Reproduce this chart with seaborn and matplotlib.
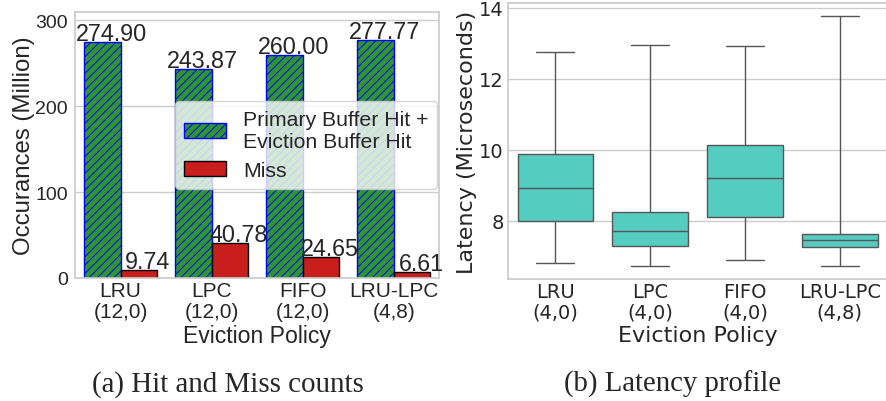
import numpy as np
import pandas as pd
import matplotlib
matplotlib.use("Agg")
import matplotlib.pyplot as plt
import seaborn as sns

# ---- data ----
hit_policies = ["LRU\n(12,0)", "LPC\n(12,0)", "FIFO\n(12,0)", "LRU-LPC\n(4,8)"]
hits = [274.90, 243.87, 260.00, 277.77]
misses = [9.74, 40.78, 24.65, 6.61]

lat_policies = ["LRU\n(4,0)", "LPC\n(4,0)", "FIFO\n(4,0)", "LRU-LPC\n(4,8)"]
# five-number summaries: whisker low, Q1, median, Q3, whisker high
lat_low = [6.81, 6.74, 6.89, 6.72]
lat_q1 = [8.00, 7.29, 8.12, 7.28]
lat_med = [8.94, 7.73, 9.20, 7.46]
lat_q3 = [9.88, 8.24, 10.15, 7.62]
lat_high = [12.74, 12.94, 12.91, 13.78]

HIT_LABEL = "Primary Buffer Hit +\nEviction Buffer Hit"
MISS_LABEL = "Miss"

HIT_COLOR = "#2e962e"
MISS_COLOR = "#c81e1e"
HATCH = "////"

sns.set_theme(style="whitegrid")
plt.rcParams["hatch.linewidth"] = 0.7

fig = plt.figure(figsize=(8.86, 4.02), dpi=100)
ax1 = fig.add_axes([0.0847, 0.306, 0.411, 0.662])
ax2 = fig.add_axes([0.5734, 0.3035, 0.4278, 0.6866])

# ---- (a) hit / miss bars ----
bar_df = pd.DataFrame({
    "policy": hit_policies * 2,
    "count": hits + misses,
    "kind": [HIT_LABEL] * len(hits) + [MISS_LABEL] * len(misses),
})
sns.barplot(data=bar_df, x="policy", y="count", hue="kind", ax=ax1,
            palette=[HIT_COLOR, MISS_COLOR], saturation=1, width=0.8,
            gap=0, errorbar=None)

sans = "Liberation Sans"
hit_bars = ax1.containers[0]
miss_bars = ax1.containers[1]
for p in hit_bars.patches:
    p.set_hatch(HATCH)
    p.set_edgecolor("blue")
    p.set_linewidth(1.0)
for p in miss_bars.patches:
    p.set_edgecolor("black")
    p.set_linewidth(1.0)

# value labels, nudged slightly right of each bar's centre
for cont, vals in ((hit_bars, hits), (miss_bars, misses)):
    for p, v in zip(cont.patches, vals):
        ax1.text(p.get_x() + p.get_width() / 2 + 0.1, v + 2.2, f"{v:.2f}",
                 ha="center", va="baseline", fontsize=16.8, family=sans,
                 color="#262626")

ax1.set_ylim(0, 310)
ax1.set_xlim(-0.5, 3.5)
ax1.set_yticks([0, 100, 200, 300])
ax1.grid(axis="x", visible=False)
ax1.set_ylabel("Occurances (Million)", fontsize=17.3, family=sans, labelpad=0)
ax1.set_xlabel("Eviction Policy", fontsize=16.6, family=sans, labelpad=2.5)
for lab in ax1.get_yticklabels():
    lab.set_family(sans)
    lab.set_fontsize(14)
for lab in ax1.get_xticklabels():
    lab.set_family(sans)
    lab.set_fontsize(15)
    lab.set_linespacing(1.13)
ax1.tick_params(axis="both", length=0)
ax1.tick_params(axis="y", pad=5)
ax1.tick_params(axis="x", pad=2)
leg = ax1.legend(loc="center right", prop={"family": sans, "size": 15.3},
                 borderaxespad=0.08, framealpha=0.8)
hit_handle, miss_handle = leg.legend_handles
hit_handle.set_hatch(HATCH)
hit_handle.set_edgecolor("blue")
hit_handle.set_linewidth(1.0)
miss_handle.set_edgecolor("black")
miss_handle.set_linewidth(1.0)

# ---- (b) latency boxes ----
box_rows = []
for name, a, b, c, d, e in zip(lat_policies, lat_low, lat_q1, lat_med, lat_q3, lat_high):
    for v in (a, b, c, d, e):
        box_rows.append({"policy": name, "latency": v})
box_df = pd.DataFrame(box_rows)
sns.boxplot(data=box_df, x="policy", y="latency", ax=ax2, color="turquoise",
            whis=(0, 100), width=0.8, showfliers=False)
ax2.set_xlim(-0.5, 3.5)
ax2.set_yticks([8, 10, 12, 14])
ax2.set_ylabel("Latency (Microseconds)", fontsize=16, labelpad=1.5)
ax2.set_xlabel("Eviction Policy", fontsize=16, labelpad=2.5)
ax2.tick_params(axis="both", labelsize=14, length=0)
ax2.tick_params(axis="y", pad=3)
ax2.tick_params(axis="x", pad=2)
for lab in ax2.get_xticklabels():
    lab.set_linespacing(1.13)
ax2.spines["right"].set_visible(False)

# ---- captions ----
serif = "Liberation Serif"
fig.text(0.257, 0.025, "(a) Hit and Miss counts", ha="center", va="baseline",
         fontsize=20.9, family=serif)
fig.text(0.759, 0.025, "(b) Latency profile", ha="center", va="baseline",
         fontsize=20.7, family=serif)

fig.savefig("out.png", dpi=100)
